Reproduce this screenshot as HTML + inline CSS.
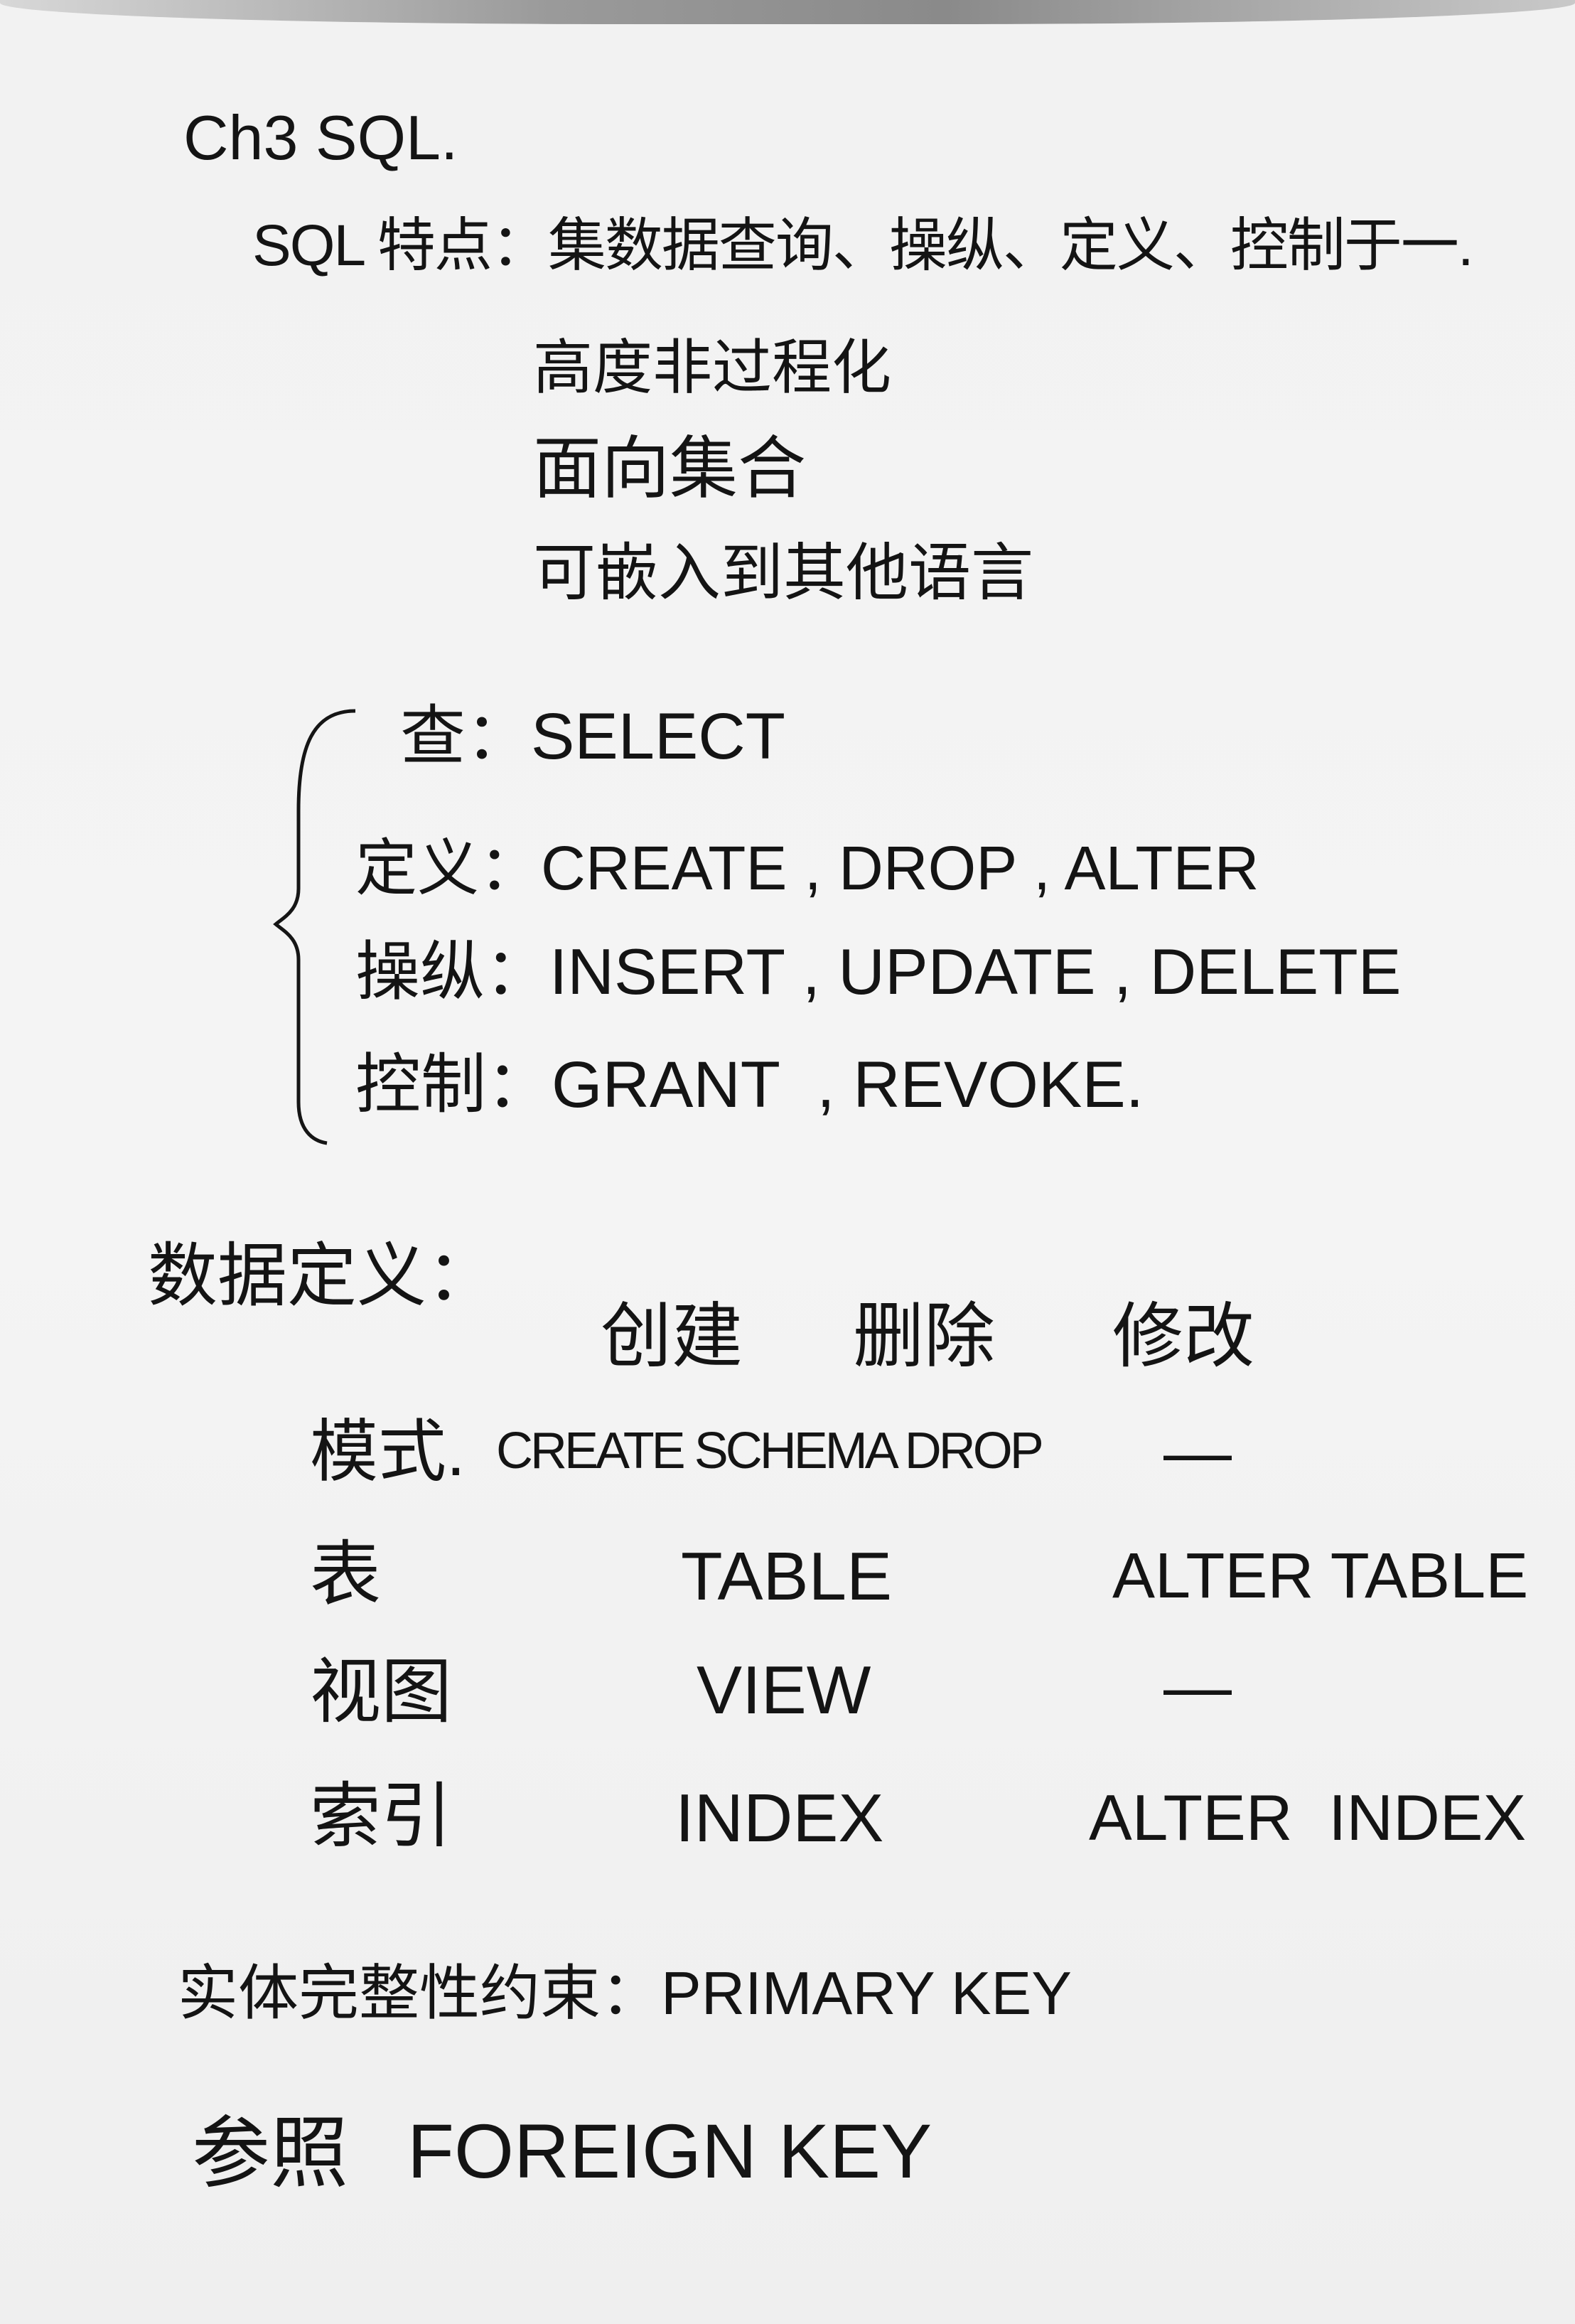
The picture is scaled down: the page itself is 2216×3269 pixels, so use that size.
<!DOCTYPE html>
<html><head><meta charset="utf-8"><style>
html,body{margin:0;padding:0}
body{width:2216px;height:3269px;position:relative;overflow:hidden;
background:linear-gradient(180deg,#f2f2f2 0%,#f4f4f4 50%,#efefef 100%);
font-family:"Liberation Sans","Noto Sans CJK SC",sans-serif;color:#141414}
.t{position:absolute;white-space:nowrap;line-height:1;font-weight:400}
.top{position:absolute;left:0;top:0;width:2216px;height:34px;
background:linear-gradient(90deg,#d8d8d8 0%,#9a9a9a 35%,#8a8a8a 60%,#c9c9c9 100%);
border-bottom-left-radius:40% 30px;border-bottom-right-radius:40% 30px}
</style></head><body>
<div class="top"></div>
<div class="t" style="left:258px;top:150px;font-size:88px">Ch3 SQL.</div>
<div class="t" style="left:355px;top:305px;font-size:82px;letter-spacing:-2px">SQL 特点：集数据查询、操纵、定义、控制于一.</div>
<div class="t" style="left:750px;top:475px;font-size:84px">高度非过程化</div>
<div class="t" style="left:750px;top:612px;font-size:96px">面向集合</div>
<div class="t" style="left:750px;top:762px;font-size:88px">可嵌入到其他语言</div>

<svg style="position:absolute;left:380px;top:990px" width="150" height="630" viewBox="0 0 150 630">
<path d="M120 10 C60 10 40 60 40 150 L40 260 C40 290 20 300 8 310 C20 320 40 330 40 360 L40 560 C40 600 60 615 80 618" fill="none" stroke="#151515" stroke-width="5"/>
</svg>

<div class="t" style="left:563px;top:990px;font-size:92px">查：SELECT</div>
<div class="t" style="left:500px;top:1178px;font-size:87px">定义：CREATE , DROP , ALTER</div>
<div class="t" style="left:500px;top:1322px;font-size:91px">操纵：INSERT , UPDATE , DELETE</div>
<div class="t" style="left:500px;top:1480px;font-size:92px">控制：GRANT&nbsp;&nbsp;, REVOKE.</div>

<div class="t" style="left:208px;top:1745px;font-size:98px">数据定义：</div>
<div class="t" style="left:845px;top:1830px;font-size:100px">创建</div>
<div class="t" style="left:1200px;top:1830px;font-size:100px">删除</div>
<div class="t" style="left:1565px;top:1830px;font-size:100px">修改</div>

<div class="t" style="left:436px;top:1995px;font-size:96px">模式.</div>
<div class="t" style="left:698px;top:2005px;font-size:72px;letter-spacing:-4px">CREATE SCHEMA DROP</div>
<div class="t" style="left:1637px;top:1995px;font-size:96px">—</div>

<div class="t" style="left:436px;top:2165px;font-size:100px">表</div>
<div class="t" style="left:958px;top:2170px;font-size:96px">TABLE</div>
<div class="t" style="left:1565px;top:2172px;font-size:90px">ALTER TABLE</div>

<div class="t" style="left:436px;top:2330px;font-size:100px">视图</div>
<div class="t" style="left:980px;top:2330px;font-size:96px">VIEW</div>
<div class="t" style="left:1637px;top:2325px;font-size:96px">—</div>

<div class="t" style="left:436px;top:2505px;font-size:100px">索引</div>
<div class="t" style="left:950px;top:2510px;font-size:96px">INDEX</div>
<div class="t" style="left:1532px;top:2512px;font-size:91px">ALTER&nbsp; INDEX</div>

<div class="t" style="left:250px;top:2762px;font-size:85px">实体完整性约束：PRIMARY KEY</div>
<div class="t" style="left:270px;top:2975px;font-size:110px">参照</div>
<div class="t" style="left:573px;top:2972px;font-size:108px">FOREIGN KEY</div>
</body></html>
